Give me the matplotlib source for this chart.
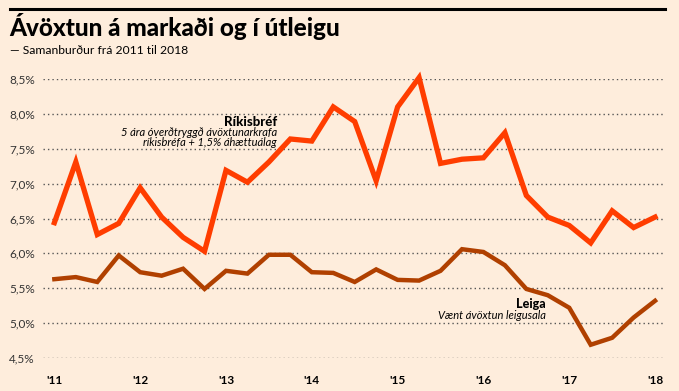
import matplotlib
matplotlib.use("Agg")
import matplotlib.pyplot as plt

# Ársfjórðungsgögn 2011 Q1 - 2018 Q1
rikisbref = [6.44, 7.31, 6.27, 6.43, 6.94, 6.52, 6.23, 6.03,
             7.19, 7.02, 7.31, 7.64, 7.61, 8.10, 7.89, 7.04,
             8.10, 8.52, 7.29, 7.35, 7.37, 7.73, 6.83, 6.52,
             6.40, 6.15, 6.61, 6.37, 6.52]
leiga = [5.63, 5.66, 5.59, 5.97, 5.73, 5.68, 5.78, 5.49,
         5.75, 5.71, 5.98, 5.98, 5.73, 5.72, 5.59, 5.77,
         5.62, 5.61, 5.75, 6.06, 6.02, 5.83, 5.49, 5.40,
         5.22, 4.69, 4.79, 5.08, 5.32]
ar_merki = ["'11", "'12", "'13", "'14", "'15", "'16", "'17", "'18"]
y_ticks = [4.5, 5.0, 5.5, 6.0, 6.5, 7.0, 7.5, 8.0, 8.5]

BG = "#FEEDDC"
ORANGE = "#FF3D00"
BROWN = "#B04000"
W, H = 679, 391

plt.rcParams['font.family'] = ['Lato', 'DejaVu Sans']

fig = plt.figure(figsize=(W / 100, H / 100), dpi=100, facecolor=BG)


def fx(px):
    return px / W


def fy(py):
    return 1 - py / H


ax = fig.add_axes([fx(43), fy(358), (663 - 43) / W, (358 - 79) / H])
ax.set_facecolor(BG)
x = list(range(len(rikisbref)))

for t in y_ticks:
    ax.axhline(t, color="#555555", lw=1.0, ls=(0, (1, 2.2)), zorder=1)

ax.plot(x, rikisbref, color=ORANGE, lw=3.8, solid_joinstyle="miter",
        clip_on=False, zorder=3)
ax.plot(x, leiga, color=BROWN, lw=3.2, solid_joinstyle="miter",
        clip_on=False, zorder=3)

ax.set_xlim(-0.53, 28.37)
ax.set_ylim(4.5, 8.5)
for s in ax.spines.values():
    s.set_visible(False)
ax.set_yticks(y_ticks)
ax.set_yticklabels([f"{t:.1f}%".replace(".", ",") for t in y_ticks],
                   fontsize=8.5, color="#333333")
ax.set_xticks(range(0, 29, 4))
ax.set_xticklabels(ar_merki, fontsize=8.5, fontweight="bold", color="black")
ax.tick_params(axis="y", length=0, pad=6)
ax.tick_params(axis="x", length=0, pad=12)

# Yfirlína og titill
fig.add_artist(plt.Line2D([fx(10), fx(665)], [fy(9), fy(9)],
                          color="black", lw=2.2))
fig.text(fx(9), fy(36), "Ávöxtun á markaði og í útleigu", fontsize=17.5,
         fontweight="black", color="black", va="baseline")
fig.text(fx(10), fy(54), "— Samanburður frá 2011 til 2018", fontsize=8.7,
         color="black", va="baseline")

# Skýringar
fig.text(fx(277), fy(126), "Ríkisbréf", fontsize=9.5, fontweight="black",
         ha="right", va="baseline")
fig.text(fx(277), fy(136), "5 ára óverðtryggð ávöxtunarkrafa", fontsize=8,
         style="italic", ha="right", va="baseline")
fig.text(fx(277), fy(146), "ríkisbréfa + 1,5% áhættuálag", fontsize=8,
         style="italic", ha="right", va="baseline")
fig.text(fx(546), fy(308), "Leiga", fontsize=9, fontweight="black",
         ha="right", va="baseline")
fig.text(fx(546), fy(319), "Vænt ávöxtun leigusala", fontsize=8,
         style="italic", ha="right", va="baseline")

fig.savefig("out.png", dpi=100, facecolor=BG)
